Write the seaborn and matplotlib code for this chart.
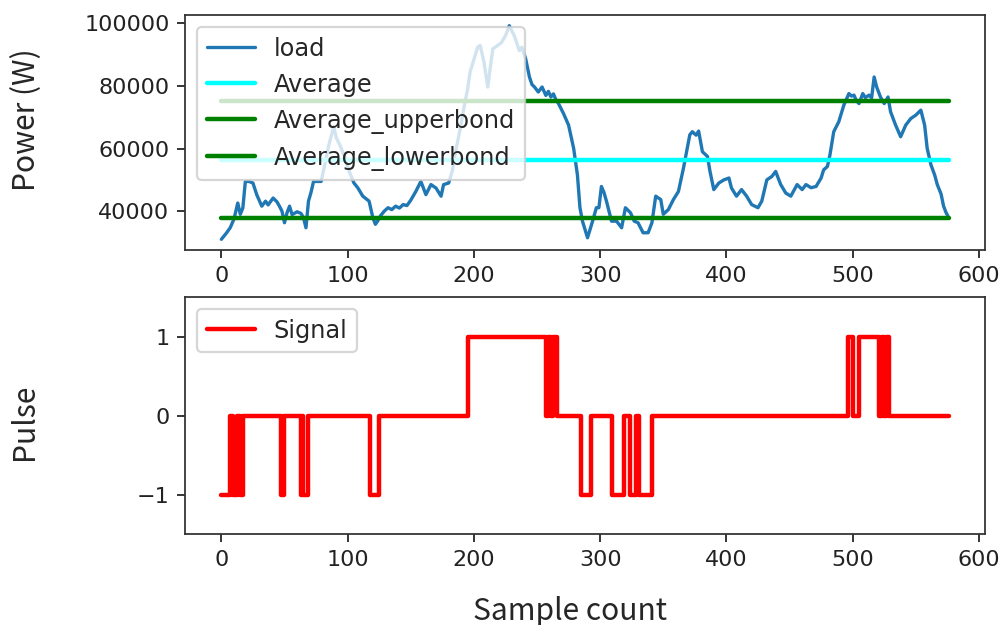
import matplotlib
matplotlib.use("Agg")
import matplotlib.pyplot as plt
import seaborn as sns

# --- load profile (W) at selected sample counts ---
sample_idx = [0, 4, 7, 10, 13, 15, 17, 19, 22, 25,
              28, 32, 35, 37, 41, 44, 46, 48, 50, 52,
              54, 56, 60, 63, 65, 67, 69, 71, 73, 76,
              79, 82, 85, 87, 89, 91, 94, 98, 101, 105,
              108, 112, 117, 120, 122, 124, 126, 129, 132, 135,
              138, 141, 144, 147, 150, 154, 158, 162, 166, 170,
              174, 176, 180, 183, 186, 189, 192, 195, 197, 200,
              203, 205, 208, 211, 213, 215, 219, 222, 225, 228,
              232, 236, 238, 241, 244, 246, 248, 251, 254, 257,
              259, 261, 263, 265, 267, 271, 275, 279, 282, 284,
              286, 290, 294, 297, 299, 301, 303, 305, 309, 313,
              317, 320, 324, 327, 330, 334, 338, 341, 344, 348,
              350, 354, 358, 362, 366, 369, 371, 373, 376, 378,
              381, 385, 387, 390, 394, 398, 402, 404, 408, 412,
              416, 420, 425, 428, 432, 436, 439, 443, 447, 451,
              456, 460, 463, 467, 471, 475, 477, 480, 482, 485,
              489, 493, 497, 499, 501, 503, 505, 508, 510, 513,
              515, 517, 519, 522, 525, 528, 530, 534, 538, 542,
              546, 550, 554, 557, 559, 562, 565, 567, 570, 572,
              574, 576]

load_w = [31000, 33000, 34700, 37500, 42600, 39000, 41000, 49500, 49500, 49000,
          45300, 41600, 43200, 42000, 44200, 43000, 41600, 40000, 36300, 39500,
          41600, 38900, 39800, 39300, 38000, 34700, 43200, 46000, 49500, 49500,
          49500, 55000, 61000, 64000, 67000, 63500, 61000, 57000, 53000, 49000,
          47500, 44800, 43200, 37900, 35800, 37000, 38500, 40000, 41100, 40500,
          41600, 41000, 42100, 41800, 43500, 46300, 49500, 45300, 48500, 47400,
          44800, 48500, 49000, 53000, 60000, 66000, 72800, 79000, 84500, 88500,
          92400, 93000, 87600, 79700, 86000, 91900, 93000, 94000, 96100, 99300,
          96100, 91300, 92400, 88700, 82900, 80500, 79700, 78100, 79700, 77000,
          78300, 76500, 77500, 75600, 74400, 71200, 67500, 60100, 51600, 41100,
          36800, 31500, 36800, 41100, 41100, 47900, 46000, 43200, 36800, 36800,
          34700, 41100, 39500, 36800, 36300, 33100, 33100, 36300, 44800, 43700,
          39000, 40500, 43700, 46300, 53800, 60100, 64400, 65400, 64300, 65600,
          59000, 57500, 52700, 46900, 49000, 50000, 50600, 47400, 44800, 46900,
          44800, 42100, 41100, 43200, 50000, 51100, 52700, 48500, 45800, 44800,
          48500, 46900, 48500, 47500, 47900, 50600, 53200, 54300, 58000, 65400,
          68600, 73900, 77600, 76800, 77100, 75300, 74400, 77600, 76300, 77100,
          76200, 82900, 79700, 76500, 74400, 76500, 71800, 67500, 63800, 67500,
          69600, 70700, 72300, 67500, 60100, 54800, 51500, 48500, 45500, 41600,
          39500, 38000]

# --- reference levels (W) ---
average_w = 56500
upper_bond_w = 75150
lower_bond_w = 37850

# --- pulse signal: sample counts where the level changes, and the new level ---
signal_idx = [0, 7, 9, 12, 15, 17, 47, 50, 63, 64, 65, 69, 118, 125, 195,
              257, 259, 261, 263, 266, 285, 293, 309, 319, 324, 328, 331, 341,
              496, 500, 505, 521, 523, 525, 526, 529, 576]
signal_level = [-1, 0, -1, 0, -1, 0, -1, 0, -1, 0, -1, 0, -1, 0, 1,
                0, 1, 0, 1, 0, -1, 0, -1, 0, -1, 0, -1, 0,
                1, 0, 1, 0, 1, 0, 1, 0, 0]

pulse_ticks = [-1, 0, 1]

sns.set_theme(style="ticks")
plt.rcParams.update({
    "font.family": ["DejaVu Sans"],
    "font.size": 10,
    "xtick.labelsize": 10,
    "ytick.labelsize": 10,
    "legend.fontsize": 10.8,
    "axes.linewidth": 0.8,
    "axes.edgecolor": "#333333",
    "xtick.major.width": 0.8,
    "ytick.major.width": 0.8,
    "xtick.major.size": 3.5,
    "ytick.major.size": 3.5,
    "xtick.color": "#222222",
    "ytick.color": "#222222",
    "lines.linewidth": 1.5,
    "legend.framealpha": 0.8,
    "legend.edgecolor": "#cccccc",
})

fig = plt.figure(figsize=(1005 / 160, 625 / 160), dpi=160)
ax1 = fig.add_axes([185 / 1005, 1 - 250 / 625, 800 / 1005, 235 / 625])
ax2 = fig.add_axes([185 / 1005, 1 - 534 / 625, 800 / 1005, 237 / 625])

first, last = sample_idx[0], sample_idx[-1]

sns.lineplot(x=sample_idx, y=load_w, ax=ax1, color="#1f77b4", lw=1.5, label="load")
sns.lineplot(x=[first, last], y=[average_w, average_w], ax=ax1, color="cyan", lw=2, label="Average")
sns.lineplot(x=[first, last], y=[upper_bond_w, upper_bond_w], ax=ax1, color="green", lw=2,
             label="Average_upperbond")
sns.lineplot(x=[first, last], y=[lower_bond_w, lower_bond_w], ax=ax1, color="green", lw=2,
             label="Average_lowerbond")
ax1.legend(loc="upper left")

sns.lineplot(x=signal_idx, y=signal_level, ax=ax2, color="red", lw=2,
             drawstyle="steps-post", label="Signal")
ax2.legend(loc="upper left")
ax2.set_ylim(-1.5, 1.5)
ax2.set_yticks(pulse_ticks)

for ax in (ax1, ax2):
    ax.set_xticks(range(0, 601, 100))
    ax.set_xlim(-28.8, 604.8)

label_font = dict(family=["Noto Sans CJK SC", "DejaVu Sans"], fontsize=13.5)
ax1.set_ylabel("Power (W)", va="center", ha="center", **label_font)
ax1.yaxis.set_label_coords(-0.1975, 0.555)
ax2.set_ylabel("Pulse", va="center", ha="center", **label_font)
ax2.yaxis.set_label_coords(-0.2, 0.474)
ax2.set_xlabel("Sample count", va="baseline", ha="center", **label_font)
ax2.xaxis.set_label_coords(0.481, -0.363)
ax1.set_xlabel("")

fig.savefig("out.png", dpi=160)
